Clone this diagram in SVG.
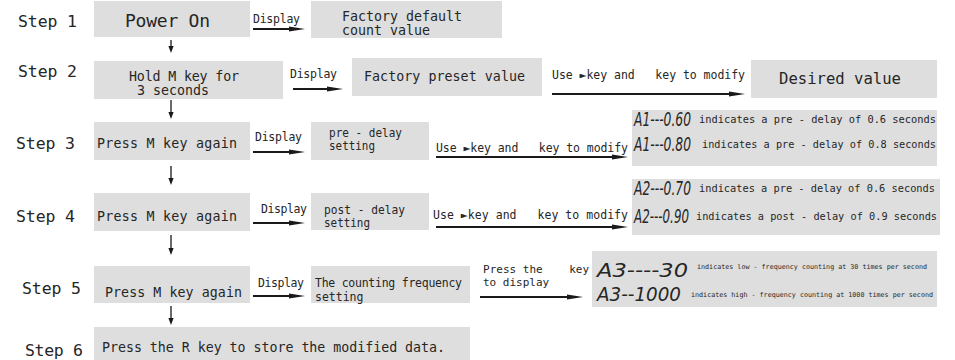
<svg xmlns="http://www.w3.org/2000/svg" width="955" height="360" viewBox="0 0 955 360">
<style>
.box{fill:#dedede}
text{font-family:"DejaVu Sans Mono","Liberation Mono",monospace;fill:#262626}
.step{font-size:16.5px}
.big{font-size:18px}
.mid{font-size:15.6px}
.t{font-size:13.3px}
.s{font-size:11.5px}
.s2{font-size:11px}
.s3{font-size:12.3px}
.lcd{font-family:"DejaVu Sans","Liberation Sans",sans-serif;font-style:italic;font-size:13px}
.lcd3{font-family:"DejaVu Sans","Liberation Sans",sans-serif;font-style:italic;font-size:20px}
.xs{font-size:10.5px}
.xxs{font-size:6.7px}
.ar{stroke:#1a1a1a;stroke-width:2;fill:none;marker-end:url(#h)}
.dn{stroke:#1a1a1a;stroke-width:1.3;fill:none;marker-end:url(#d)}
</style>
<defs>
<marker id="h" markerUnits="userSpaceOnUse" markerWidth="16" markerHeight="6" viewBox="0 0 16 6" refX="8" refY="3" orient="auto"><path d="M0,0.6 L16,3 L0,5.4 z" fill="#1a1a1a"/></marker>
<marker id="d" markerUnits="userSpaceOnUse" markerWidth="7" markerHeight="6" viewBox="0 0 7 6" refX="3" refY="3" orient="auto"><path d="M0,0.4 L7,3 L0,5.6 z" fill="#1a1a1a"/></marker>
</defs>

<g id="labels">
<text class="step" x="18" y="27" textLength="59">Step 1</text>
<text class="step" x="18" y="77" textLength="59">Step 2</text>
<text class="step" x="16" y="149" textLength="59">Step 3</text>
<text class="step" x="16" y="222" textLength="59">Step 4</text>
<text class="step" x="22" y="294" textLength="59">Step 5</text>
<text class="step" x="25" y="356" textLength="58">Step 6</text>
</g>

<g id="power-on">
<rect class="box" x="94" y="1" width="156" height="36"/>
<text class="big" x="125" y="27" textLength="85">Power On</text>
</g>
<g id="factory-default">
<rect class="box" x="311" y="1" width="191" height="37"/>
<text class="t" x="342" y="21">Factory default</text>
<text class="t" x="342" y="35">count value</text>
</g>

<g id="hold-m">
<rect class="box" x="94" y="61" width="189" height="38"/>
<text class="t" x="129" y="81" textLength="110">Hold M key for</text>
<text class="t" x="137" y="95">3 seconds</text>
</g>
<g id="factory-preset">
<rect class="box" x="352" y="58" width="190" height="38"/>
<text class="t" x="364" y="81" textLength="161">Factory preset value</text>
</g>
<g id="desired">
<rect class="box" x="751" y="60" width="186" height="38"/>
<text class="mid" x="779" y="84" textLength="122">Desired value</text>
</g>

<g id="step3-press">
<rect class="box" x="94" y="122" width="156" height="38"/>
<text class="t" x="97" y="148" textLength="140">Press M key again</text>
</g>
<g id="pre-delay">
<rect class="box" x="311" y="122" width="118" height="38"/>
<text class="s3" x="329" y="136.5" textLength="73" lengthAdjust="spacingAndGlyphs">pre - delay</text>
<text class="s3" x="329" y="150" textLength="46" lengthAdjust="spacingAndGlyphs">setting</text>
</g>
<g id="a1-values">
<rect class="box" x="632" y="110" width="305" height="56"/>
<text class="lcd" transform="translate(634,126) scale(1,1.5)" textLength="57" lengthAdjust="spacingAndGlyphs">A1---0.60</text>
<text class="xs" x="699" y="123" textLength="237" lengthAdjust="spacingAndGlyphs">indicates a pre - delay of 0.6 seconds</text>
<text class="lcd" transform="translate(634,151) scale(1,1.5)" textLength="57" lengthAdjust="spacingAndGlyphs">A1---0.80</text>
<text class="xs" x="702" y="148" textLength="234" lengthAdjust="spacingAndGlyphs">indicates a pre - delay of 0.8 seconds</text>
</g>

<g id="step4-press">
<rect class="box" x="94" y="193" width="156" height="38"/>
<text class="t" x="97" y="221" textLength="140">Press M key again</text>
</g>
<g id="post-delay">
<rect class="box" x="311" y="193" width="118" height="37"/>
<text class="s3" x="324" y="213.5" textLength="81" lengthAdjust="spacingAndGlyphs">post - delay</text>
<text class="s3" x="324" y="227" textLength="46" lengthAdjust="spacingAndGlyphs">setting</text>
</g>
<g id="a2-values">
<rect class="box" x="632" y="179" width="308" height="56"/>
<text class="lcd" transform="translate(634,195) scale(1,1.5)" textLength="57" lengthAdjust="spacingAndGlyphs">A2---0.70</text>
<text class="xs" x="699" y="192" textLength="236" lengthAdjust="spacingAndGlyphs">indicates a pre - delay of 0.6 seconds</text>
<text class="lcd" transform="translate(634,223) scale(1,1.5)" textLength="55" lengthAdjust="spacingAndGlyphs">A2---0.90</text>
<text class="xs" x="696" y="220" textLength="241" lengthAdjust="spacingAndGlyphs">indicates a post - delay of 0.9 seconds</text>
</g>

<g id="step5-press">
<rect class="box" x="94" y="266" width="156" height="37"/>
<text class="t" x="105" y="297" textLength="137">Press M key again</text>
</g>
<g id="counting-frequency">
<rect class="box" x="311" y="266" width="159" height="37"/>
<text class="s" x="315" y="287" textLength="147">The counting frequency</text>
<text class="s" x="315" y="301">setting</text>
</g>
<g id="a3-values">
<rect class="box" x="592" y="251" width="345" height="56"/>
<text class="lcd3" x="597" y="277" textLength="91" lengthAdjust="spacingAndGlyphs">A3----30</text>
<text class="xxs" x="697" y="269" textLength="230" lengthAdjust="spacingAndGlyphs">indicates low - frequency counting at 30 times per second</text>
<text class="lcd3" x="597" y="301" textLength="84" lengthAdjust="spacingAndGlyphs">A3--1000</text>
<text class="xxs" x="691" y="297" textLength="242" lengthAdjust="spacingAndGlyphs">indicates high - frequency counting at 1000 times per second</text>
</g>

<g id="store">
<rect class="box" x="94" y="327" width="376" height="33"/>
<text class="t" x="102" y="352" textLength="343">Press the R key to store the modified data.</text>
</g>

<g id="connectors">
<line class="ar" x1="253" y1="29" x2="297" y2="29"/>
<text class="s" x="253" y="23" textLength="47">Display</text>
<line class="ar" x1="293" y1="89" x2="335" y2="89"/>
<text class="s" x="290" y="78" textLength="47">Display</text>
<line class="ar" x1="552" y1="94" x2="737" y2="94"/>
<text class="s" x="552" y="79" textLength="193" xml:space="preserve">Use ►key and   key to modify</text>
<line class="ar" x1="253" y1="152" x2="297" y2="152"/>
<text class="s" x="255" y="141" textLength="47">Display</text>
<line class="ar" x1="436" y1="157" x2="620" y2="157"/>
<text class="s" x="436" y="152" textLength="192" xml:space="preserve">Use ►key and   key to modify</text>
<line class="ar" x1="253" y1="223" x2="297" y2="223"/>
<text class="s" x="261" y="213" textLength="46">Display</text>
<line class="ar" x1="436" y1="227" x2="620" y2="227"/>
<text class="s" x="433" y="219" textLength="195" xml:space="preserve">Use ►key and   key to modify</text>
<line class="ar" x1="253" y1="296" x2="297" y2="296"/>
<text class="s" x="258" y="287" textLength="46">Display</text>
<line class="ar" x1="480" y1="297" x2="575" y2="297"/>
<text class="s2" x="483" y="273" textLength="106" xml:space="preserve">Press the    key</text>
<text class="s2" x="483" y="286">to display</text>
<line class="dn" x1="171" y1="40" x2="171" y2="49"/>
<line class="dn" x1="171" y1="100" x2="171" y2="115"/>
<line class="dn" x1="171" y1="166" x2="171" y2="181"/>
<line class="dn" x1="171" y1="235" x2="171" y2="251"/>
<line class="dn" x1="171" y1="306" x2="171" y2="321"/>
</g>
</svg>
